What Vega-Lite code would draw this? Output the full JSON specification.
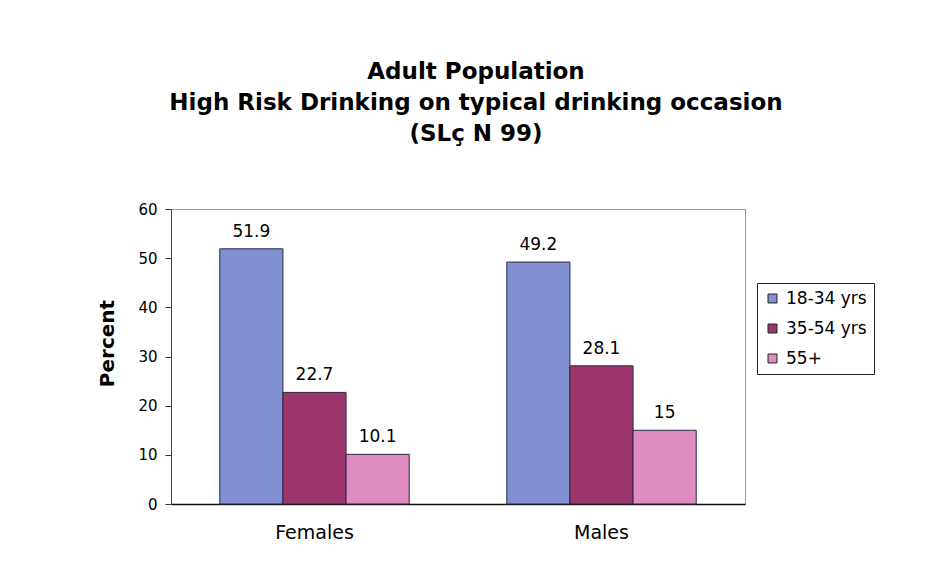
{
  "$schema": "https://vega.github.io/schema/vega-lite/v6.json",
  "width": 574,
  "height": 295,
  "autosize": {"type": "none"},
  "padding": {"left": 171, "top": 209, "right": 191, "bottom": 61},
  "background": "white",
  "title": {
    "text": ["Adult Population", "High Risk Drinking on typical drinking occasion", "(SLç N 99)"],
    "font": "DejaVu Sans",
    "fontSize": 23,
    "fontWeight": "bold",
    "color": "black",
    "anchor": "middle",
    "frame": "group",
    "dx": 18,
    "offset": 56,
    "lineHeight": 31
  },
  "data": {
    "values": [
      {"sex": "Females", "age": "18-34 yrs", "percent": 51.9},
      {"sex": "Females", "age": "35-54 yrs", "percent": 22.7},
      {"sex": "Females", "age": "55+", "percent": 10.1},
      {"sex": "Males", "age": "18-34 yrs", "percent": 49.2},
      {"sex": "Males", "age": "35-54 yrs", "percent": 28.1},
      {"sex": "Males", "age": "55+", "percent": 15}
    ]
  },
  "encoding": {
    "x": {
      "field": "sex",
      "type": "nominal",
      "sort": ["Females", "Males"],
      "title": null,
      "scale": {"paddingInner": 0.34, "paddingOuter": 0.17},
      "axis": {
        "labelAngle": 0,
        "labelFont": "DejaVu Sans",
        "labelFontSize": 19,
        "labelColor": "black",
        "labelPadding": 19,
        "ticks": false,
        "domainColor": "#111",
        "domainWidth": 1.5
      }
    },
    "xOffset": {
      "field": "age",
      "type": "nominal",
      "sort": ["18-34 yrs", "35-54 yrs", "55+"],
      "scale": {"paddingInner": 0, "paddingOuter": 0}
    },
    "y": {
      "field": "percent",
      "type": "quantitative",
      "title": "Percent",
      "scale": {"domain": [0, 60], "nice": false},
      "axis": {
        "values": [0, 10, 20, 30, 40, 50, 60],
        "grid": false,
        "labelFont": "DejaVu Sans",
        "labelFontSize": 15,
        "labelColor": "black",
        "labelPadding": 8,
        "tickSize": 6,
        "tickColor": "#333",
        "domainColor": "#444",
        "titleFont": "DejaVu Sans",
        "titleFontSize": 20,
        "titleFontWeight": "bold",
        "titleColor": "black",
        "titlePadding": 20,
        "titleY": 134
      }
    }
  },
  "layer": [
    {
      "mark": {"type": "bar", "stroke": "#2a2a44", "strokeWidth": 1},
      "encoding": {
        "color": {
          "field": "age",
          "type": "nominal",
          "sort": ["18-34 yrs", "35-54 yrs", "55+"],
          "scale": {"domain": ["18-34 yrs", "35-54 yrs", "55+"], "range": ["#8090d0", "#9c3569", "#de8cc0"]},
          "legend": {
            "title": null,
            "orient": "none",
            "legendX": 586,
            "legendY": 74,
            "strokeColor": "#222",
            "padding": 7,
            "symbolType": "square",
            "symbolSize": 80,
            "symbolStrokeColor": "#222",
            "symbolStrokeWidth": 1,
            "labelFont": "DejaVu Sans",
            "labelFontSize": 17,
            "labelColor": "black",
            "rowPadding": 12,
            "labelOffset": 5
          }
        }
      }
    },
    {
      "mark": {"type": "text", "baseline": "bottom", "dy": -8, "font": "DejaVu Sans", "fontSize": 17, "color": "black"},
      "encoding": {"text": {"field": "percent", "type": "quantitative"}}
    }
  ],
  "config": {"view": {"stroke": "#999"}}
}
